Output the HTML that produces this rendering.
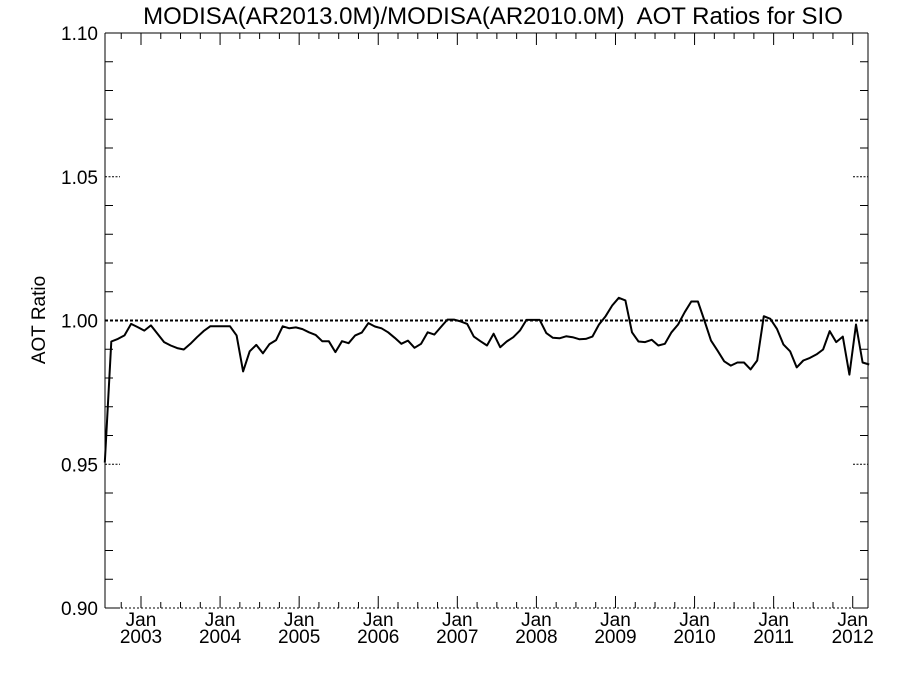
<!DOCTYPE html>
<html><head><meta charset="utf-8"><style>
html,body{margin:0;padding:0;background:#fff;}
svg{display:block;font-family:"Liberation Sans",Arial,sans-serif;}
</style></head><body>
<svg id="chart" width="900" height="675" viewBox="0 0 900 675" xmlns="http://www.w3.org/2000/svg">
<rect width="900" height="675" fill="#fff"/>
<text x="493" y="24" font-size="24" text-anchor="middle">MODISA(AR2013.0M)/MODISA(AR2010.0M)&#160; AOT Ratios for SIO</text>
<text transform="translate(45,320) rotate(-90)" font-size="19" text-anchor="middle">AOT Ratio</text>
<g id="axes"></g>
<g id="marks"></g>
</svg>
<script>
const ratios = [0.9506,0.9927,0.9936,0.9948,0.9988,0.9977,0.9965,0.9983,0.9954,0.9925,0.9913,0.9904,0.9899,0.9919,0.9942,0.9963,0.998,0.998,0.998,0.998,0.9948,0.9823,0.9893,0.9915,0.9886,0.9918,0.9932,0.998,0.9973,0.9976,0.997,0.9959,0.995,0.9928,0.9928,0.989,0.9928,0.9921,0.9948,0.9958,
0.9991,0.9979,0.9973,0.9959,0.994,0.9919,0.993,0.9905,0.9919,0.9959,0.9951,0.9977,1.0003,1.0003,0.9997,0.9988,0.9944,0.9928,0.9913,0.9954,0.9907,0.9927,0.9942,0.9965,1.0002,1.0002,1.0002,0.9956,0.994,0.9938,0.9945,0.9942,0.9935,0.9936,0.9944,0.9986,1.0015,
1.0052,1.0079,1.007,0.9959,0.9927,0.9925,0.9933,0.9913,0.9919,0.9959,0.9986,1.0029,1.0066,1.0066,1.0,0.993,0.9895,0.9858,0.9843,0.9854,0.9854,0.983,0.9861,1.0015,1.0006,0.9971,0.9916,0.9893,0.9837,0.9861,0.987,0.9882,0.9899,0.9963,0.9925,0.9944,0.9812,0.9986,0.9854,0.9847];
const startMonth = [2002, 7];
const yTicks = [0.90, 0.95, 1.00, 1.05, 1.10];
const yTickLabels = ["0.90","0.95","1.00","1.05","1.10"];
const xYearLabels = ["2003","2004","2005","2006","2007","2008","2009","2010","2011","2012"];
const refValue = 1.0;

const L=105,R=868,T=33,B=608;
const NS="http://www.w3.org/2000/svg";
function xs(m){return 141+(m-6)*6.59;}
function ys(v){return B-(v-0.90)/0.20*(B-T);}
const axes=document.getElementById('axes'), marks=document.getElementById('marks');
function mk(tag,attrs,parent){const e=document.createElementNS(NS,tag);for(const k in attrs)e.setAttribute(k,attrs[k]);parent.appendChild(e);return e;}

let e;
e=mk('line',{x1:L,y1:T,x2:R,y2:T,stroke:'#000','stroke-width':1},axes);


e=mk('line',{x1:L,y1:T,x2:L,y2:B,stroke:'#000','stroke-width':1},axes);


e=mk('line',{x1:R,y1:T,x2:R,y2:B,stroke:'#000','stroke-width':1},axes);


e=mk('line',{x1:L,y1:B,x2:R,y2:B,stroke:'#000','stroke-width':1,'stroke-dasharray':'2,2'},axes);



for(let k=0;k<=20;k++){
  const v=0.90+k*0.01, y=ys(v);
  if(k%5===0){
    if(k===0||k===20){
      mk('line',{x1:L,y1:y,x2:L+15,y2:y,stroke:'#000'},axes);
      mk('line',{x1:R-15,y1:y,x2:R,y2:y,stroke:'#000'},axes);
    } else if(k!==10){
      mk('line',{x1:L,y1:y,x2:L+15,y2:y,stroke:'#000','stroke-dasharray':'2,1.5'},axes);
      mk('line',{x1:R-15,y1:y,x2:R,y2:y,stroke:'#000','stroke-dasharray':'2,1.5'},axes);
    }
  } else {
    mk('line',{x1:L,y1:y,x2:L+8,y2:y,stroke:'#000'},axes);
    mk('line',{x1:R-8,y1:y,x2:R,y2:y,stroke:'#000'},axes);
  }
}
yTicks.forEach((v,i)=>{
  const t=mk('text',{x:L-7,y:ys(v)+7,'font-size':19,'text-anchor':'end'},axes);
  t.textContent=yTickLabels[i];
  
  
});
for(let m=0;m<=117;m+=3){
  const x=xs(m); if(x<L||x>R) continue;
  const jan=(m%12===6);
  const len=jan?12:6;
  mk('line',{x1:x,y1:B,x2:x,y2:B-len,stroke:'#000'},axes);
  mk('line',{x1:x,y1:T,x2:x,y2:T+len,stroke:'#000'},axes);
}
xYearLabels.forEach((yr,i)=>{
  const x=xs(6+12*i);
  const t1=mk('text',{x:x,y:B+18,'font-size':19,'text-anchor':'middle'},axes);
  t1.textContent='Jan';
  
  
  const t2=mk('text',{x:x,y:B+35,'font-size':19,'text-anchor':'middle'},axes);
  t2.textContent=yr;
  
  
});
e=mk('line',{x1:L,y1:ys(refValue),x2:R,y2:ys(refValue),stroke:'#000','stroke-width':2,'stroke-dasharray':'3,2'},marks);


const pts=ratios.map((v,i)=>xs(i+0.5).toFixed(1)+','+ys(v).toFixed(1)).join(' ');
e=mk('polyline',{points:pts,fill:'none',stroke:'#000','stroke-width':2,'stroke-linejoin':'round'},marks);


</script>
</body></html>
